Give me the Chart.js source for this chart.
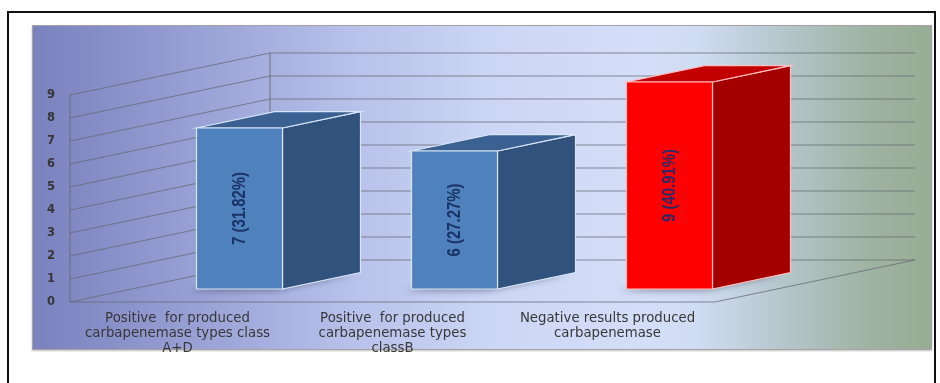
<!DOCTYPE html>
<html>
<head>
<meta charset="utf-8">
<script src="https://cdn.jsdelivr.net/npm/chart.js@4.4.1/dist/chart.umd.min.js"></script>
<style>
  html, body { margin: 0; padding: 0; width: 940px; height: 383px; overflow: hidden; background: #fff; }
  #frame { position: absolute; left: 7px; top: 11px; width: 929px; height: 420px; box-sizing: border-box; border: 2px solid #111; }
  #panel {
    position: absolute; left: 32px; top: 25px; width: 900px; height: 325px; box-sizing: border-box;
    border: 1px solid #a4a4a4;
    background: linear-gradient(to right, #7a81bd 0%, #98a0d5 18%, #b8c2eb 36%, #cdd7f5 52%, #d4def8 68%, #d0dcf3 74%, #b4c5ca 84%, #9fb3a2 93%, #97ac94 100%);
    box-shadow: 0 1px 2px rgba(0,0,0,0.25);
  }
  #chart { position: absolute; left: 0; top: 0; }
</style>
</head>
<body>
<div id="frame"></div>
<div id="panel"></div>
<canvas id="chart" width="940" height="383"></canvas>
<script>
// ── Data ────────────────────────────────────────────────────────
const categories = [
  ['Positive  for produced', 'carbapenemase types class', 'A+D'],
  ['Positive  for produced', 'carbapenemase types', 'classB'],
  ['Negative results produced', 'carbapenemase']
];
const counts   = [7, 6, 9];
const percents = ['31.82%', '27.27%', '40.91%'];
const yTicks   = [0, 1, 2, 3, 4, 5, 6, 7, 8, 9];

// ── Look ────────────────────────────────────────────────────────
const frontColors = ['#4f81bd', '#4f81bd', '#ff0000'];
const sideColors  = ['#30527c', '#30527c', '#a40000'];
const topColors   = ['#3b6192', '#3b6192', '#c20000'];
const edgeColors  = ['#d8e6f6', '#d8e6f6', '#ffc0c0'];
const textColors  = ['#1a3266', '#1a3266', '#2a2868'];

const DEPTH = { x: 200, y: -42 };   // depth vector of the floor / side wall
const BAR_FRONT = 0.31;              // where the bar front sits in depth
const BAR_DEPTH = 0.39;              // how deep the bar is

function poly(ctx, pts, fill, stroke) {
  ctx.beginPath();
  ctx.moveTo(pts[0][0], pts[0][1]);
  for (let k = 1; k < pts.length; k++) ctx.lineTo(pts[k][0], pts[k][1]);
  ctx.closePath();
  if (fill) { ctx.fillStyle = fill; ctx.fill(); }
  if (stroke) { ctx.strokeStyle = stroke; ctx.stroke(); }
}

// ── Walls + floor (drawn from the y scale) ─────────────────────
const walls = {
  id: 'walls',
  beforeDatasetsDraw(chart) {
    const { ctx, chartArea: a, scales: { y } } = chart;
    ctx.save();
    ctx.strokeStyle = 'rgba(105,105,115,0.75)';
    ctx.lineWidth = 1.2;
    const backL = a.left + DEPTH.x, backR = a.right + DEPTH.x;
    yTicks.forEach(v => {
      const py = y.getPixelForValue(v);
      ctx.beginPath();
      ctx.moveTo(a.left, py);
      ctx.lineTo(backL, py + DEPTH.y);
      ctx.lineTo(backR, py + DEPTH.y);
      ctx.stroke();
    });
    const top = y.getPixelForValue(yTicks[yTicks.length - 1]);
    const bot = y.getPixelForValue(0);
    ctx.beginPath();
    // left wall front edge
    ctx.moveTo(a.left, top); ctx.lineTo(a.left, bot);
    // back wall left edge
    ctx.moveTo(backL, top + DEPTH.y); ctx.lineTo(backL, bot + DEPTH.y);
    // floor front + right edge
    ctx.moveTo(a.left, bot); ctx.lineTo(a.right, bot); ctx.lineTo(backR, bot + DEPTH.y);
    ctx.stroke();
    ctx.restore();
  }
};

// ── 3D bars (positions from the bar elements) ───────────────────
const bars3d = {
  id: 'bars3d',
  afterDatasetsDraw(chart) {
    const ctx = chart.ctx;
    const meta = chart.getDatasetMeta(0);
    const ox = DEPTH.x * BAR_FRONT, oy = DEPTH.y * BAR_FRONT;
    const dx = DEPTH.x * BAR_DEPTH, dy = DEPTH.y * BAR_DEPTH;
    meta.data.forEach((bar, i) => {
      const { x, y, base, width } = bar.getProps(['x', 'y', 'base', 'width'], true);
      const l = x - width / 2 + ox, r = x + width / 2 + ox;
      const t = y + oy, b = base + oy;
      ctx.save();
      // soft floor shadow
      ctx.filter = 'blur(3px)';
      poly(ctx, [[l - 8, b + 2], [r - 8, b + 2], [r + dx - 8, b + dy + 2], [l + dx - 8, b + dy + 2]], 'rgba(50,50,70,0.45)');
      ctx.filter = 'none';
      ctx.lineWidth = 1.2;
      poly(ctx, [[r, t], [r + dx, t + dy], [r + dx, b + dy], [r, b]], sideColors[i], edgeColors[i]);
      poly(ctx, [[l, t], [l + dx, t + dy], [r + dx, t + dy], [r, t]], topColors[i], edgeColors[i]);
      poly(ctx, [[l, t], [r, t], [r, b], [l, b]], frontColors[i], edgeColors[i]);
      // value label, rotated
      ctx.translate((l + r) / 2, (t + b) / 2);
      ctx.rotate(-Math.PI / 2);
      ctx.scale(0.83, 1);
      ctx.font = 'bold 18px "Liberation Sans", Arial, sans-serif';
      ctx.textAlign = 'center';
      ctx.textBaseline = 'middle';
      ctx.fillStyle = textColors[i];
      ctx.fillText(`${counts[i]} (${percents[i]})`, 0, 1);
      ctx.restore();
    });
  }
};

new Chart(document.getElementById('chart'), {
  type: 'bar',
  data: {
    labels: categories,
    datasets: [{
      data: counts,
      backgroundColor: 'rgba(0,0,0,0)',
      borderWidth: 0,
      barPercentage: 1,
      categoryPercentage: 0.4
    }]
  },
  options: {
    responsive: false,
    animation: false,
    devicePixelRatio: 1,
    layout: { padding: { left: 0, top: 95, right: 225, bottom: 0 } },
    plugins: { legend: { display: false }, tooltip: { enabled: false } },
    scales: {
      x: {
        grid: { display: false, drawTicks: false },
        border: { display: false },
        ticks: {
          color: '#383838',
          font: { family: '"DejaVu Sans", sans-serif', size: 13.3, lineHeight: '15px' },
          padding: 9, maxRotation: 0, autoSkip: false
        },
        afterFit(s) { s.height = 81; }
      },
      y: {
        min: 0, max: 9,
        afterBuildTicks(s) { s.ticks = yTicks.map(v => ({ value: v })); },
        grid: { display: false, drawTicks: false },
        border: { display: false },
        ticks: {
          color: '#363636',
          font: { family: '"DejaVu Sans", sans-serif', size: 11.5, weight: 'bold' },
          padding: 15
        },
        afterFit(s) { s.width = 70; }
      }
    }
  },
  plugins: [walls, bars3d]
});
</script>
</body>
</html>
